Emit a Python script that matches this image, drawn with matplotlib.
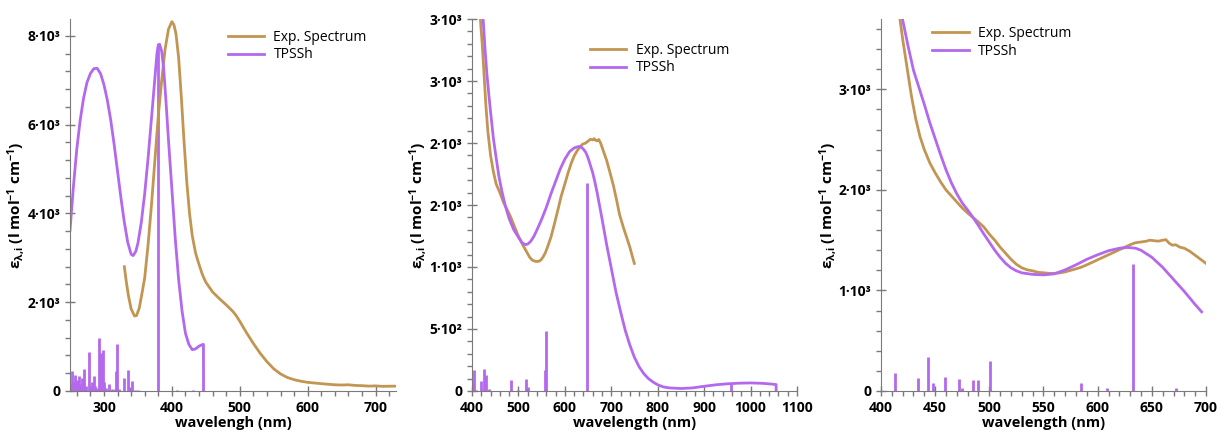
import numpy as np
import matplotlib.pyplot as plt
from matplotlib.ticker import MultipleLocator, FixedLocator, FixedFormatter

plt.rcParams['font.family'] = ['Open Sans', 'DejaVu Sans']
plt.rcParams['mathtext.fontset'] = 'custom'
plt.rcParams['mathtext.rm'] = 'Open Sans:bold'
plt.rcParams['mathtext.it'] = 'Open Sans:bold'
plt.rcParams['mathtext.bf'] = 'Open Sans:bold'
plt.rcParams['mathtext.default'] = 'rm'

EXP_COLOR = '#c29552'
CALC_COLOR = '#b468ee'
SPINE_COLOR = '#7a7a7a'

# ---- panel 1 data ----
p1_calc_x = [250, 255, 260, 265, 270, 275, 280, 285, 290, 295, 300, 305, 310, 315, 320,
             325, 330, 335, 340, 343, 347, 350, 355, 360, 365, 370, 375, 378, 380, 382,
             385, 388, 391, 395, 400, 405, 410, 415, 420, 425, 430, 435, 440, 444,
             446.5, 446.6]
p1_calc_y = [3620, 4600, 5450, 6100, 6600, 6950, 7150, 7260, 7270, 7150, 6900, 6550, 6100,
             5550, 4950, 4350, 3800, 3350, 3080, 3050, 3150, 3330, 3800, 4450, 5250, 6150,
             7050, 7600, 7800, 7810, 7650, 7250, 6600, 5650, 4550, 3430, 2500, 1800, 1300,
             1050, 930, 950, 1010, 1040, 1050, 0]
p1_exp_x = [330, 333, 336, 340, 345, 348, 352, 356, 360, 365, 370, 375, 380, 385, 390, 395,
            400, 403, 406, 410, 414, 418, 422, 426, 430, 435, 440, 445, 450, 460, 470,
            480, 490, 495, 500, 510, 520, 530, 540, 550, 560, 570, 580, 590, 600, 620,
            640, 650, 660, 670, 680, 690, 700, 710, 720, 730]
p1_exp_y = [2800, 2450, 2150, 1850, 1690, 1700, 1870, 2200, 2550, 3300, 4200, 5200, 6200,
            7000, 7700, 8150, 8320, 8250, 8050, 7500, 6600, 5600, 4700, 4000, 3500, 3100,
            2850, 2620, 2450, 2230, 2080, 1940, 1790, 1690, 1570, 1310, 1070, 850, 660,
            500, 385, 305, 255, 220, 195, 165, 140, 135, 140, 125, 120, 110, 115, 105,
            108, 110]
p1_stick_x = [252, 253.5, 256, 258, 261, 263, 265, 268, 271, 274, 278, 280, 282, 285,
              287, 290, 292, 293.5, 295, 296.5, 298.5, 300, 303, 307, 312, 316, 318,
              319.5, 322, 330, 336, 338, 342, 345, 350, 380, 407, 431]
p1_stick_h = [170, 460, 200, 350, 240, 330, 150, 300, 500, 120, 880, 110, 200, 330,
              120, 60, 1190, 650, 860, 700, 930, 200, 60, 160, 40, 50, 440,
              1050, 40, 290, 480, 100, 220, 20, 20, 7800, 15, 20]

# ---- panel 2 data ----
p2_calc_x = [405, 420, 424, 428, 432, 436, 440, 446, 452, 458, 465, 472, 480, 490, 500,
             508, 515, 520, 526, 533, 540, 550, 560, 570, 580, 590, 600, 610, 620, 630,
             635, 640, 645, 650, 655, 660, 665, 670, 680, 690, 700, 710, 720, 730, 740,
             750, 760, 770, 780, 790, 800, 812, 825, 850, 875, 900, 925, 950, 975, 1000,
             1025, 1045, 1055, 1055.1]
p2_calc_y = [4500, 3300, 3000, 2760, 2560, 2400, 2250, 2040, 1880, 1730, 1600, 1490, 1390,
             1300, 1240, 1195, 1180, 1185, 1205, 1245, 1300, 1385, 1480, 1590, 1690, 1790,
             1870, 1930, 1960, 1972, 1968, 1950, 1925, 1880, 1820, 1760, 1680, 1590, 1390,
             1180, 990, 800, 640, 490, 370, 270, 195, 140, 100, 72, 50, 33, 25, 20, 25, 38,
             50, 58, 63, 65, 62, 56, 52, 0]
p2_exp_x = [405, 418, 422, 426, 430, 434, 440, 446, 452, 460, 468, 476, 483, 490, 498,
            505, 512, 518, 524, 530, 537, 543, 548, 553, 558, 563, 570, 577, 585, 592,
            600, 607, 614, 620, 626, 632, 638, 645, 650, 655, 660, 663, 667, 670, 673,
            677, 683, 690, 697, 705, 712, 718, 726, 733, 740, 745, 749.7]
p2_exp_y = [4500, 3000, 2800, 2550, 2300, 2100, 1900, 1770, 1670, 1600, 1520, 1460, 1405,
            1340, 1265, 1210, 1160, 1120, 1080, 1055, 1045, 1045, 1055, 1080, 1115, 1165,
            1240, 1340, 1460, 1570, 1670, 1760, 1840, 1895, 1935, 1965, 1990, 2000, 2015,
            2030, 2025, 2035, 2020, 2018, 2028, 2000, 1935, 1860, 1765, 1650, 1530, 1420,
            1320, 1240, 1160, 1090, 1029]
p2_stick_x = [400, 402, 405, 408, 420, 426.5, 430, 436, 484.6, 499, 516.9, 520.4,
              556.3, 560, 648.4, 958]
p2_stick_h = [62, 62, 170, 8, 78, 181, 132, 14, 89, 6, 97, 32,
              173, 487, 1680, 60]

# ---- panel 3 data ----
p3_calc_x = [410, 418, 420, 425, 430, 435, 440, 445, 450, 455, 460, 465, 470, 475, 480,
             485, 490, 495, 500, 505, 510, 515, 520, 525, 530, 540, 550, 560, 570, 580,
             590, 600, 610, 620, 628, 635, 640, 650, 660, 670, 680, 690, 696]
p3_calc_y = [4300, 3760, 3690, 3430, 3190, 3020, 2850, 2670, 2510, 2350, 2200, 2070, 1960,
             1870, 1800, 1725, 1645, 1560, 1480, 1400, 1330, 1270, 1225, 1195, 1175, 1160,
             1155, 1165, 1205, 1255, 1310, 1355, 1395, 1420, 1428, 1420, 1400, 1330, 1230,
             1110, 990, 860, 787]
p3_exp_x = [410, 417.5, 420, 424, 428, 432, 436, 440, 445, 450, 455, 460, 465, 470, 475,
            480, 485, 490, 495, 500, 505, 510, 515, 520, 525, 530, 535, 540, 545, 550,
            555, 560, 565, 570, 575, 580, 585, 590, 595, 600, 605, 610, 615, 620, 625,
            630, 635, 640, 645, 648, 652, 656, 660, 663, 666, 669, 672, 676, 680, 685,
            690, 695, 700]
p3_exp_y = [4300, 3700, 3500, 3220, 2940, 2710, 2530, 2400, 2270, 2170, 2080, 2000, 1940,
            1880, 1820, 1770, 1725, 1680, 1630, 1560, 1500, 1430, 1370, 1310, 1260, 1225,
            1205, 1195, 1180, 1176, 1170, 1170, 1175, 1185, 1200, 1215, 1232, 1255, 1280,
            1305, 1330, 1355, 1380, 1405, 1430, 1455, 1475, 1482, 1490, 1500, 1495, 1490,
            1500, 1505, 1470, 1450, 1455, 1430, 1420, 1390, 1350, 1310, 1269]
p3_stick_x = [413, 434.2, 443, 448.1, 459.5, 471.8, 474.4, 484.5, 489.9, 500.3,
              584.4, 609, 632.7, 672.7]
p3_stick_h = [176, 133, 335, 80, 143, 120, 33, 106, 113, 299,
              83, 27, 1262, 30]

p1_yticks = [0, 2000, 4000, 6000, 8000]
p1_ylabels = ['0', '2·10³', '4·10³', '6·10³', '8·10³']
p2_yticks = [0, 500, 1000, 1500, 2000, 2500, 3000]
p2_ylabels = ['0', '5·10²', '1·10³', '2·10³', '2·10³', '3·10³', '3·10³']
p3_yticks = [0, 1000, 2000, 3000]
p3_ylabels = ['0', '1·10³', '2·10³', '3·10³']

panels = [
    dict(calc=(p1_calc_x, p1_calc_y), exp=(p1_exp_x, p1_exp_y), sticks=(p1_stick_x, p1_stick_h),
         xlim=(250, 730), ylim=(0, 8380), xminor=20, xticks=[300, 400, 500, 600, 700],
         yticks=p1_yticks, ylabels=p1_ylabels, yminor=400, xlabel='wavelengh (nm)',
         pos=[70, 396], leg=(0.445, 1.005)),
    dict(calc=(p2_calc_x, p2_calc_y), exp=(p2_exp_x, p2_exp_y), sticks=(p2_stick_x, p2_stick_h),
         xlim=(400, 1100), ylim=(0, 3000), xminor=20,
         xticks=list(range(400, 1101, 100)),
         yticks=p2_yticks, ylabels=p2_ylabels, yminor=100, xlabel='wavelength (nm)',
         pos=[472, 797], leg=(0.325, 0.97)),
    dict(calc=(p3_calc_x, p3_calc_y), exp=(p3_exp_x, p3_exp_y), sticks=(p3_stick_x, p3_stick_h),
         xlim=(400, 700), ylim=(0, 3700), xminor=10,
         xticks=list(range(400, 701, 50)),
         yticks=p3_yticks, ylabels=p3_ylabels, yminor=200, xlabel='wavelength (nm)',
         pos=[881, 1206], leg=(0.12, 1.015)),
]

W, H = 1218, 434
fig = plt.figure(figsize=(W / 100, H / 100), dpi=100)
top_px, bot_px = 19, 391

for p in panels:
    left, right = p['pos']
    ax = fig.add_axes([left / W, (H - bot_px) / H, (right - left) / W, (bot_px - top_px) / H])
    ax.vlines(p['sticks'][0], 0, p['sticks'][1], color=CALC_COLOR, lw=2)
    ax.plot(*p['exp'], color=EXP_COLOR, lw=2, label='Exp. Spectrum')
    ax.plot(*p['calc'], color=CALC_COLOR, lw=2, label='TPSSh')
    ax.set_xlim(*p['xlim'])
    ax.set_ylim(*p['ylim'])
    ax.xaxis.set_major_locator(FixedLocator(p['xticks']))
    ax.xaxis.set_minor_locator(MultipleLocator(p['xminor']))
    ax.yaxis.set_major_locator(FixedLocator(p['yticks']))
    ax.yaxis.set_major_formatter(FixedFormatter(p['ylabels']))
    ax.yaxis.set_minor_locator(MultipleLocator(p['yminor']))
    for s in ['top', 'right']:
        ax.spines[s].set_visible(False)
    for s in ['left', 'bottom']:
        ax.spines[s].set_color(SPINE_COLOR)
    ax.tick_params(which='major', direction='inout', length=7, width=1, color=SPINE_COLOR,
                   labelsize=10)
    ax.tick_params(which='minor', direction='out', length=3.5, width=1, color=SPINE_COLOR)
    for lab in ax.get_xticklabels() + ax.get_yticklabels():
        lab.set_fontweight('bold')
    ax.set_xlabel(p['xlabel'], fontsize=10.5, fontweight='bold', labelpad=1)
    ax.set_ylabel(r'ε$_{λ{,}i}$ (l mol$^{-1}$ cm$^{-1}$)', fontsize=11, fontweight='bold',
                  labelpad=0)
    ax.legend(loc='upper left', bbox_to_anchor=p['leg'], frameon=False, fontsize=10,
              handlelength=2.6, handletextpad=0.7, labelspacing=0.2)

fig.savefig('out.png', dpi=100)
